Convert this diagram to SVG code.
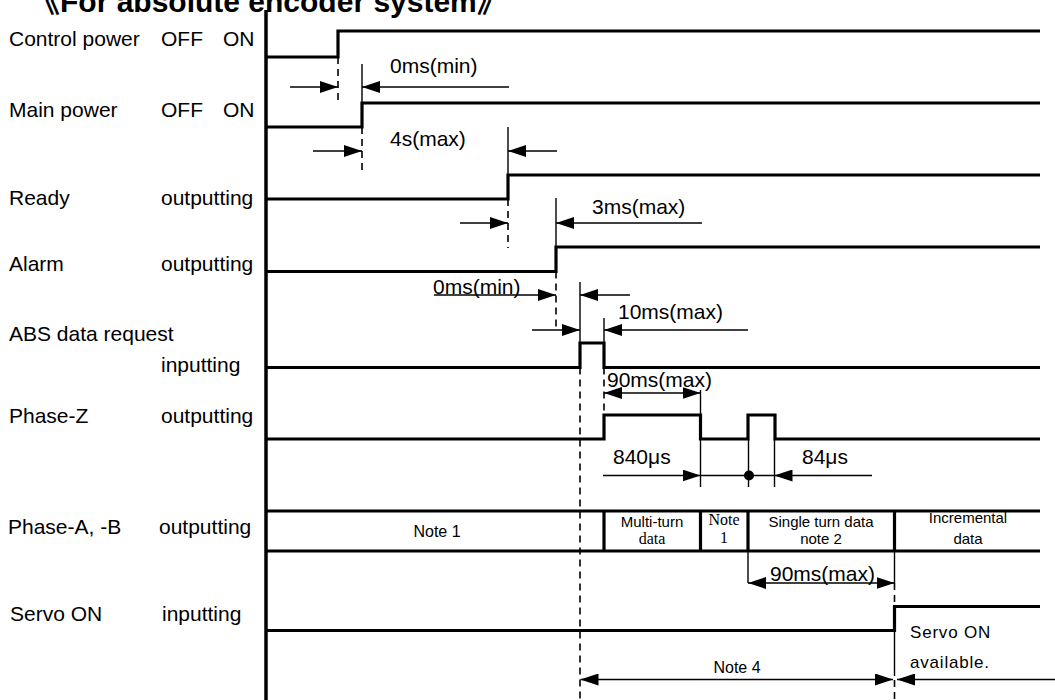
<svg xmlns="http://www.w3.org/2000/svg" width="1055" height="700" viewBox="0 0 1055 700">
<style>
text{font-family:"Liberation Sans",Arial,sans-serif;fill:#000}
.lbl{font-size:21px}
.dim{font-size:21px}
.sm{font-size:15px}
.ser{font-family:"Liberation Serif","Times New Roman",serif;font-size:16px}
.title{font-size:30px;font-weight:bold;font-family:"Liberation Sans","Noto Sans CJK JP",sans-serif}
.sig{fill:none;stroke:#000;stroke-width:3.2;stroke-linejoin:miter;stroke-linecap:butt}
.thin{fill:none;stroke:#000;stroke-width:1.4}
.dash{fill:none;stroke:#000;stroke-width:1.6;stroke-dasharray:7 5}
.arr{fill:none;stroke:#000;stroke-width:1.4;marker-end:url(#ah)}
.arr2{fill:none;stroke:#000;stroke-width:1.4;marker-end:url(#ah);marker-start:url(#ahs)}
</style>
<defs>
<marker id="ah" markerUnits="userSpaceOnUse" markerWidth="18" markerHeight="12" refX="18" refY="6" orient="auto"><path d="M0,0 L18,6 L0,12 z" fill="#000"/></marker>
<marker id="ahs" markerUnits="userSpaceOnUse" markerWidth="18" markerHeight="12" refX="18" refY="6" orient="auto-start-reverse"><path d="M0,0 L18,6 L0,12 z" fill="#000"/></marker>
</defs>
<rect width="1055" height="700" fill="#fff"/>
<text class="title" x="30" y="12">《For absolute encoder system》</text>
<g id="axis"><line x1="266" y1="10" x2="266" y2="700" stroke="#000" stroke-width="3.5"/></g>
<g id="labels" class="lbl">
<text class="lbl" x="9" y="46">Control power</text><text class="lbl" x="161" y="46">OFF</text><text class="lbl" x="223" y="46">ON</text>
<text class="lbl" x="9" y="117">Main power</text><text class="lbl" x="161" y="117">OFF</text><text class="lbl" x="223" y="117">ON</text>
<text class="lbl" x="9" y="205">Ready</text><text class="lbl" x="161" y="205">outputting</text>
<text class="lbl" x="9" y="271">Alarm</text><text class="lbl" x="161" y="271">outputting</text>
<text class="lbl" x="9" y="341">ABS data request</text><text class="lbl" x="161" y="372">inputting</text>
<text class="lbl" x="9" y="423">Phase-Z</text><text class="lbl" x="161" y="423">outputting</text>
<text class="lbl" x="8" y="534">Phase-A, -B</text><text class="lbl" x="159" y="534">outputting</text>
<text class="lbl" x="10" y="621">Servo ON</text><text class="lbl" x="162" y="621">inputting</text>
</g>
<g id="control-power"><path class="sig" d="M266,57 H338 V31 H1040"/></g>
<g id="main-power"><path class="sig" d="M266,127 H362 V103 H1040"/></g>
<g id="ready"><path class="sig" d="M266,199 H508 V175 H1040"/></g>
<g id="alarm"><path class="sig" d="M266,271.5 H556 V247 H1040"/></g>
<g id="abs-request"><path class="sig" d="M266,367.5 H580 V343 H604 V367.5 H1040"/></g>
<g id="phase-z"><path class="sig" d="M266,439 H604 V415 H700.5 V439 H748 V415 H775 V439 H1040"/></g>
<g id="phase-ab">
<path class="sig" d="M266,511 H1040 M266,551 H1040 M604,511 V551 M700.5,511 V551 M748,511 V551 M894.5,511 V551"/>
<text x="437" y="537" text-anchor="middle" style="font-size:16px">Note 1</text>
<text class="sm" x="652" y="527" text-anchor="middle">Multi-turn</text>
<text class="ser" x="652" y="544" text-anchor="middle">data</text>
<text class="ser" x="724" y="525" text-anchor="middle">Note</text>
<text class="ser" x="724" y="543" text-anchor="middle">1</text>
<text class="sm" x="821" y="527" text-anchor="middle">Single turn data</text>
<text class="sm" x="821" y="544" text-anchor="middle">note 2</text>
<text class="sm" x="968" y="523" text-anchor="middle">Incremental</text>
<text class="sm" x="968" y="544" text-anchor="middle">data</text>
</g>
<g id="servo-on">
<path class="sig" d="M266,630.5 H894.5 V606.5 H1040"/>
<text x="910" y="638" style="font-size:17px;letter-spacing:0.8px">Servo ON</text>
<text x="910" y="668" style="font-size:17px;letter-spacing:0.8px">available.</text>
</g>
<g id="connectors">
<line class="dash" x1="338" y1="57" x2="338" y2="105"/>
<line class="thin" x1="362" y1="64" x2="362" y2="103"/>
<line class="arr" x1="290" y1="87" x2="338" y2="87"/>
<line class="arr" x1="509" y1="87" x2="362" y2="87"/>
<text class="dim" x="390" y="73">0ms(min)</text>

<line class="dash" x1="362" y1="127" x2="362" y2="175"/>
<line class="thin" x1="508" y1="127" x2="508" y2="175"/>
<line class="arr" x1="313" y1="151" x2="362" y2="151"/>
<line class="arr" x1="557" y1="151" x2="508" y2="151"/>
<text class="dim" x="390" y="146">4s(max)</text>

<line class="dash" x1="508" y1="199" x2="508" y2="248"/>
<line class="thin" x1="556" y1="198" x2="556" y2="247"/>
<line class="arr" x1="460" y1="223" x2="508" y2="223"/>
<line class="arr" x1="702" y1="223" x2="556" y2="223"/>
<text class="dim" x="592" y="214">3ms(max)</text>

<line class="dash" x1="556" y1="271.5" x2="556" y2="327"/>
<line class="thin" x1="580" y1="282" x2="580" y2="343"/>
<line class="arr" x1="434" y1="295" x2="556" y2="295"/>
<line class="arr" x1="630" y1="295" x2="580" y2="295"/>
<text class="dim" x="433" y="294">0ms(min)</text>

<line class="thin" x1="604" y1="318" x2="604" y2="343"/>
<line class="arr" x1="532" y1="330" x2="580" y2="330"/>
<line class="arr" x1="748" y1="330" x2="604" y2="330"/>
<text class="dim" x="618" y="319">10ms(max)</text>

<line class="dash" x1="580" y1="367.5" x2="580" y2="700"/>
<line class="dash" x1="604" y1="367.5" x2="604" y2="415"/>
<line class="thin" x1="700.5" y1="390" x2="700.5" y2="415"/>
<line class="arr2" x1="604" y1="393" x2="700.5" y2="393"/>
<text class="dim" x="607" y="387">90ms(max)</text>

<line class="thin" x1="700.5" y1="439" x2="700.5" y2="487"/>
<line class="thin" x1="748.5" y1="439" x2="748.5" y2="487"/>
<line class="thin" x1="774.5" y1="439" x2="774.5" y2="487"/>
<line class="arr" x1="603" y1="475.5" x2="700.5" y2="475.5"/>
<line class="thin" x1="700.5" y1="475.5" x2="774.5" y2="475.5"/>
<circle cx="749" cy="475.5" r="5" fill="#000"/>
<line class="arr" x1="872" y1="475.5" x2="774.5" y2="475.5"/>
<text class="dim" x="613" y="464">840μs</text>
<text class="dim" x="802" y="464">84μs</text>

<line class="thin" x1="748" y1="551" x2="748" y2="583"/>
<line class="thin" x1="894.5" y1="551" x2="894.5" y2="583"/>
<line class="arr2" x1="748" y1="583" x2="894.5" y2="583"/>
<text class="dim" x="770" y="581">90ms(max)</text>
<line class="dash" x1="894.5" y1="583" x2="894.5" y2="606.5"/>
<line class="thin" x1="894.5" y1="630" x2="894.5" y2="676"/>
<line class="dash" x1="894.5" y1="680" x2="894.5" y2="700"/>

<line class="arr2" x1="580.5" y1="679.5" x2="893" y2="679.5"/>
<line class="arr" x1="1055" y1="679.5" x2="897" y2="679.5"/>
<text x="737" y="673" text-anchor="middle" style="font-size:16px">Note 4</text>
</g>
</svg>
